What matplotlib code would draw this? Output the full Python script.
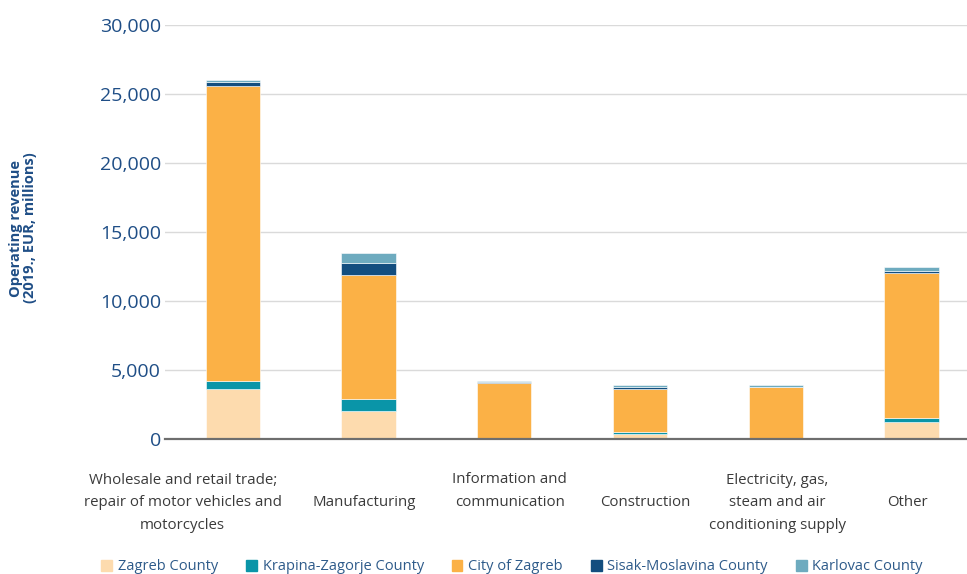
"""Operating revenue by sector and county, stacked bars."""

import matplotlib

matplotlib.use("Agg")
import matplotlib.pyplot as plt
from matplotlib.patches import Patch
from matplotlib.ticker import FuncFormatter
import numpy as np

CATEGORIES = [
    "Wholesale and retail trade;\nrepair of motor vehicles and\nmotorcycles",
    "Manufacturing",
    "Information and\ncommunication",
    "Construction",
    "Electricity, gas,\nsteam and air\nconditioning supply",
    "Other",
]
SERIES_NAMES = [
    "Zagreb County",
    "Krapina-Zagorje County",
    "City of Zagreb",
    "Sisak-Moslavina County",
    "Karlovac County",
]
ZAGREB_COUNTY = [3650, 2030, 30, 360, 30, 1230]
KRAPINA_ZAGORJE = [580, 870, 20, 150, 20, 290]
CITY_OF_ZAGREB = [21350, 8980, 4000, 3120, 3700, 10510]
SISAK_MOSLAVINA = [300, 870, 50, 150, 40, 140]
KARLOVAC = [150, 730, 100, 140, 120, 290]

COLORS = ["#FDDBAE", "#0A95A8", "#FBB146", "#134E7F", "#6EABBF"]
BLUE = "#1F4E86"
TEXT_GREY = "#3A3A3A"
# label offsets from bar centres (the first label sits left of its bar)
LABEL_SHIFT = [-0.37, -0.03, 0.04, 0.04, 0.01, -0.03]
# vertical centre of each label, in axes fraction
LABEL_Y = [-0.154, -0.154, -0.125, -0.154, -0.154, -0.154]

plt.rcParams["font.family"] = ["Open Sans", "DejaVu Sans"]

fig = plt.figure(figsize=(9.67, 5.74), dpi=100)
ax = fig.add_axes([165 / 967, 1 - 439 / 574, 1 - 165 / 967, (439 - 25) / 574])

x = np.arange(len(CATEGORIES))
bottom = np.zeros(len(CATEGORIES))
series = [ZAGREB_COUNTY, KRAPINA_ZAGORJE, CITY_OF_ZAGREB, SISAK_MOSLAVINA, KARLOVAC]
for values, color in zip(series, COLORS):
    vals = np.array(values, dtype=float)
    ax.bar(x, vals, width=0.4, bottom=bottom, color=color, edgecolor="white",
           linewidth=0.4, zorder=3)
    bottom += vals

ax.set_ylim(0, 30000)
ax.set_xlim(-0.5, 5.41)
ax.set_yticks(np.arange(0, 30001, 5000))
ax.yaxis.set_major_formatter(FuncFormatter(lambda v, _: f"{int(v):,}"))
ax.grid(axis="y", color="#DADADA", linewidth=1.0, zorder=0)
ax.set_axisbelow(True)
for side in ("top", "right", "left"):
    ax.spines[side].set_visible(False)
ax.spines["bottom"].set_color("#6E6E6E")
ax.spines["bottom"].set_linewidth(1.6)
ax.spines["bottom"].set_zorder(4)
ax.tick_params(axis="y", length=0, pad=3, labelsize=14, labelcolor=BLUE)
ax.tick_params(axis="x", length=0)
ax.set_xticks([])

for i, label in enumerate(CATEGORIES):
    ax.text(i + LABEL_SHIFT[i], LABEL_Y[i], label, transform=ax.get_xaxis_transform(),
            ha="center", va="center", fontsize=10.8, color=TEXT_GREY, linespacing=1.7)

fig.text(23 / 967, 1 - 228 / 574, "Operating revenue\n(2019., EUR, millions)",
         rotation=90, ha="center", va="center", fontsize=10.5, fontweight="bold",
         color=BLUE, linespacing=1.05)

handles = [Patch(facecolor=c, edgecolor=c) for c in COLORS]
fig.legend(handles, SERIES_NAMES, loc="center", bbox_to_anchor=(512 / 967, 1 - 567 / 574),
           ncol=5, frameon=False, fontsize=10.5, labelcolor="#2E5B8A",
           handlelength=0.75, handleheight=0.75, handletextpad=0.4, columnspacing=1.9)

fig.savefig("out.png", dpi=100)
